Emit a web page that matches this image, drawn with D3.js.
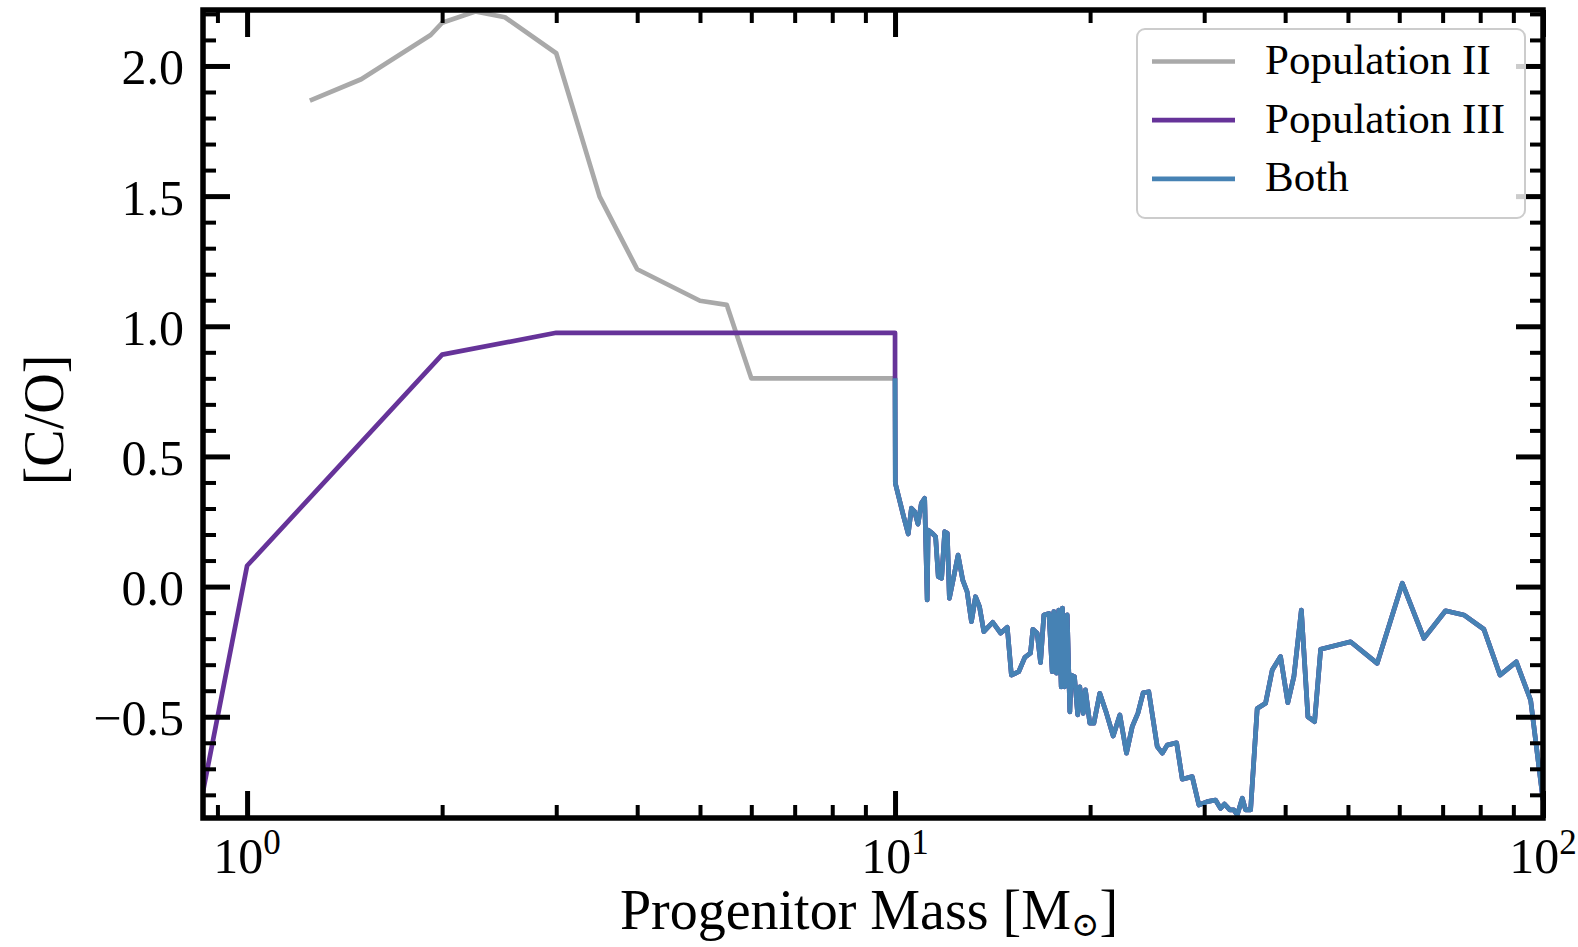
<!DOCTYPE html>
<html>
<head>
<meta charset="utf-8">
<script src="https://cdn.jsdelivr.net/npm/d3@7"></script>
<style>
  html, body { margin: 0; padding: 0; background: #ffffff; }
  svg text { font-family: "Liberation Serif", "DejaVu Serif", serif; fill: #000; }
</style>
</head>
<body>
<svg id="chart" width="1578" height="947"></svg>
<script>
// Carbon-to-oxygen ratio of supernova yields versus progenitor mass

// Population II, low/intermediate-mass branch
const pop2Mass = [1.25, 1.5, 1.92, 2.0, 2.25, 2.5, 3.0, 3.5, 4.0, 5.0, 5.5, 6.0, 10.0];
const pop2CO   = [1.867, 1.949, 2.119, 2.166, 2.209, 2.187, 2.049, 1.498, 1.219, 1.098, 1.082, 0.80, 0.80];

// Population III, low/intermediate-mass branch
const pop3Mass = [0.85, 1.0, 2.0, 3.0, 10.0];
const pop3CO   = [-0.82, 0.08, 0.891, 0.975, 0.975];

// Massive stars: shared by both populations
const bothMass = [10.0, 10.01, 10.13, 10.31, 10.48, 10.60, 10.72, 10.85, 10.98, 11.11,
  11.21, 11.25, 11.41, 11.55, 11.66, 11.80, 11.93, 12.04, 12.13, 12.32,
  12.51, 12.72, 12.92, 13.12, 13.31, 13.50, 13.71, 14.15, 14.55, 14.90,
  15.12, 15.52, 15.86, 16.18, 16.32, 16.57, 16.77, 16.97, 17.28, 17.48,
  17.58, 17.75, 17.89, 18.05, 18.13, 18.26, 18.44, 18.61, 18.70, 18.92,
  19.14, 19.28, 19.52, 19.67, 19.98, 20.27, 20.70, 21.20, 21.71, 22.23,
  22.76, 23.23, 23.70, 24.15, 24.64, 25.39, 25.85, 26.30, 27.20, 27.75,
  28.75, 29.44, 30.33, 31.23, 31.79, 32.24, 32.86, 33.33, 33.74, 34.35,
  34.75, 35.38, 36.22, 37.31, 38.21, 39.35, 40.38, 41.26, 42.37, 43.37,
  44.41, 45.38, 50.47, 55.48, 60.65, 65.50, 70.73, 75.48, 81.05, 85.82,
  90.95, 95.70, 100];
const bothCO = [0.80, 0.397, 0.345, 0.269, 0.202, 0.301, 0.288, 0.240, 0.320, 0.339,
  -0.051, 0.217, 0.205, 0.192, 0.038, 0.032, 0.211, 0.205, -0.045, 0.038,
  0.121, 0.025, -0.020, -0.135, -0.039, -0.077, -0.173, -0.137, -0.179, -0.156,
  -0.340, -0.327, -0.272, -0.256, -0.164, -0.179, -0.292, -0.109, -0.103, -0.327,
  -0.096, -0.333, -0.090, -0.385, -0.083, -0.385, -0.109, -0.481, -0.340, -0.346,
  -0.493, -0.385, -0.487, -0.397, -0.525, -0.525, -0.410, -0.487, -0.574, -0.493,
  -0.640, -0.538, -0.487, -0.408, -0.404, -0.615, -0.640, -0.609, -0.600, -0.740,
  -0.730, -0.839, -0.826, -0.820, -0.852, -0.835, -0.858, -0.858, -0.877, -0.813,
  -0.858, -0.858, -0.468, -0.448, -0.320, -0.269, -0.446, -0.346, -0.090, -0.500,
  -0.519, -0.241, -0.212, -0.295, 0.013, -0.199, -0.093, -0.109, -0.164, -0.340,
  -0.289, -0.436, -0.82];

// Axis ticks and labels
const yMajorTicks  = [-0.5, 0.0, 0.5, 1.0, 1.5, 2.0];
const yTickLabels  = ["\u22120.5", "0.0", "0.5", "1.0", "1.5", "2.0"];
const yMinorTicks  = d3.range(-8, 23).map(d => d / 10).filter(d => Math.abs(d * 2 - Math.round(d * 2)) > 1e-9);
const xMajorTicks  = [1, 10, 100];
const xTickExponents = ["0", "1", "2"];
const xMinorTicks  = [0.9, 2, 3, 4, 5, 6, 7, 8, 9, 20, 30, 40, 50, 60, 70, 80, 90];

const seriesNames  = ["Population II", "Population III", "Both"];
const seriesColors = ["#a9a9a9", "#663399", "#4682b4"];

// ---- layout ----
const plot = { left: 203, right: 1543, top: 10, bottom: 818 };
const LINE_W = 4.7;

const svg = d3.select("#chart");

const x = d3.scaleLog().domain([0.855, 100]).range([plot.left, plot.right]);
const y = d3.scaleLinear().domain([-0.889, 2.215]).range([plot.bottom, plot.top]);

svg.append("defs").append("clipPath").attr("id", "plot-clip")
  .append("rect")
  .attr("x", plot.left).attr("y", plot.top)
  .attr("width", plot.right - plot.left).attr("height", plot.bottom - plot.top);

const zip = (ms, vs) => ms.map((m, i) => ({ m, v: vs[i] }));
const bothPts = zip(bothMass, bothCO);
const pop2Pts = zip(pop2Mass, pop2CO).concat(bothPts.slice(1));
const pop3Pts = zip(pop3Mass, pop3CO).concat(bothPts);

const line = d3.line().x(d => x(d.m)).y(d => y(d.v));

const lines = svg.append("g").attr("clip-path", "url(#plot-clip)");
[pop2Pts, pop3Pts, bothPts].forEach((pts, i) => {
  lines.append("path")
    .datum(pts)
    .attr("d", line)
    .attr("fill", "none")
    .attr("stroke", seriesColors[i])
    .attr("stroke-width", LINE_W)
    .attr("stroke-linejoin", "round")
    .attr("stroke-linecap", "butt");
});

// ---- ticks (pointing inward on all four sides) ----
const MAJ = 27, MIN = 13;
function styleTicks(g, width) {
  g.select(".domain").remove();
  g.selectAll(".tick line").attr("stroke", "#000").attr("stroke-width", width);
  g.selectAll(".tick text").remove();
}

const axes = svg.append("g");
axes.append("g").attr("transform", `translate(0,${plot.bottom})`)
  .call(d3.axisBottom(x).tickValues(xMajorTicks).tickSize(-MAJ).tickFormat(""))
  .call(g => styleTicks(g, 5));
axes.append("g").attr("transform", `translate(0,${plot.bottom})`)
  .call(d3.axisBottom(x).tickValues(xMinorTicks).tickSize(-MIN).tickFormat(""))
  .call(g => styleTicks(g, 4));
axes.append("g").attr("transform", `translate(0,${plot.top})`)
  .call(d3.axisTop(x).tickValues(xMajorTicks).tickSize(-MAJ).tickFormat(""))
  .call(g => styleTicks(g, 5));
axes.append("g").attr("transform", `translate(0,${plot.top})`)
  .call(d3.axisTop(x).tickValues(xMinorTicks).tickSize(-MIN).tickFormat(""))
  .call(g => styleTicks(g, 4));

axes.append("g").attr("transform", `translate(${plot.left},0)`)
  .call(d3.axisLeft(y).tickValues(yMinorTicks).tickSize(-MIN).tickFormat(""))
  .call(g => styleTicks(g, 4));
axes.append("g").attr("transform", `translate(${plot.right},0)`)
  .call(d3.axisRight(y).tickValues(yMinorTicks).tickSize(-MIN).tickFormat(""))
  .call(g => styleTicks(g, 4));
axes.append("g").attr("transform", `translate(${plot.right},0)`)
  .call(d3.axisRight(y).tickValues(yMajorTicks).tickSize(-MAJ).tickFormat(""))
  .call(g => styleTicks(g, 5));

// left axis keeps its labels
const yAxisLeft = axes.append("g").attr("transform", `translate(${plot.left},0)`)
  .call(d3.axisLeft(y).tickValues(yMajorTicks).tickSize(-MAJ).tickPadding(19)
    .tickFormat((d, i) => yTickLabels[i]));
yAxisLeft.select(".domain").remove();
yAxisLeft.selectAll(".tick line").attr("stroke", "#000").attr("stroke-width", 5);
yAxisLeft.selectAll(".tick text")
  .attr("font-size", 50)
  .attr("font-family", "Liberation Serif, serif")
  .attr("fill", "#000")
  .attr("dy", "0.36em");

// bottom labels as powers of ten
const xLabels = axes.append("g");
xMajorTicks.forEach((v, i) => {
  const t = xLabels.append("text")
    .attr("x", x(v)).attr("y", 873)
    .attr("text-anchor", "middle")
    .attr("font-size", 50);
  t.append("tspan").text("10");
  t.append("tspan").attr("dy", -19).attr("font-size", 35).text(xTickExponents[i]);
});

// frame
svg.append("rect")
  .attr("x", plot.left).attr("y", plot.top)
  .attr("width", plot.right - plot.left).attr("height", plot.bottom - plot.top)
  .attr("fill", "none").attr("stroke", "#000").attr("stroke-width", 5.5);

// axis titles
const xTitle = svg.append("text")
  .attr("x", 869).attr("y", 929)
  .attr("text-anchor", "middle")
  .attr("font-size", 56);
xTitle.append("tspan").text("Progenitor Mass [M");
xTitle.append("tspan").attr("dy", 7).attr("font-size", 34).text("\u2299");
xTitle.append("tspan").attr("dy", -7).text("]");

svg.append("text")
  .attr("transform", "translate(63,420) rotate(-90)")
  .attr("text-anchor", "middle")
  .attr("font-size", 56)
  .text("[C/O]");

// legend
const legend = svg.append("g");
legend.append("rect")
  .attr("x", 1137).attr("y", 29)
  .attr("width", 388).attr("height", 189)
  .attr("rx", 8).attr("ry", 8)
  .attr("fill", "#ffffff").attr("fill-opacity", 0.8)
  .attr("stroke", "#cccccc").attr("stroke-width", 2);

seriesNames.forEach((name, i) => {
  const cy = 61.5 + i * 58.7;
  legend.append("line")
    .attr("x1", 1152).attr("x2", 1235)
    .attr("y1", cy).attr("y2", cy)
    .attr("stroke", seriesColors[i])
    .attr("stroke-width", LINE_W);
  legend.append("text")
    .attr("x", 1265).attr("y", cy + 12.5)
    .attr("font-size", 43)
    .text(name);
});
</script>
</body>
</html>
